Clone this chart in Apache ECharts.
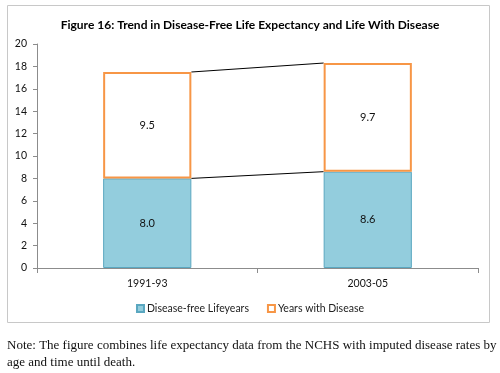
<!DOCTYPE html>
<html><head><meta charset="utf-8">
<script src="https://cdn.jsdelivr.net/npm/echarts@6/dist/echarts.min.js"></script>
<style>html,body{margin:0;padding:0;background:#fff}#c{width:500px;height:373px}</style>
</head><body><div id="c"></div>
<script>
const categories = ['1991-93', '2003-05'];
const diseaseFree = [8.0, 8.6];
const withDisease = [9.5, 9.7];
const yTicks = [0, 2, 4, 6, 8, 10, 12, 14, 16, 18, 20];
const titleText = 'Figure 16: Trend in Disease-Free Life Expectancy and Life With Disease';
const noteLines = ['Note: The figure combines life expectancy data from the NCHS with imputed disease rates by', 'age and time until death.'];

const totals = diseaseFree.map((v, i) => +(v + withDisease[i]).toFixed(1));
const connectors = [];
for (let i = 0; i < categories.length - 1; i++) {
  connectors.push([i, diseaseFree[i], diseaseFree[i + 1]]);
  connectors.push([i, totals[i], totals[i + 1]]);
}
const BAR_FRAC = 0.4;
const chart = echarts.init(document.getElementById('c'));
const font = 'Lato, "Open Sans", sans-serif';
chart.setOption({
  animation: false,
  textStyle: { fontFamily: font },
  title: { text: titleText, left: 'center', top: 14, textStyle: { fontSize: 12, fontWeight: 'bold', color: '#000', fontFamily: font } },
  graphic: [
    { type: 'rect', shape: { x: 7.5, y: 5.5, width: 482, height: 317 }, style: { fill: 'none', stroke: '#c8c8c8', lineWidth: 1 }, z: -1 },
    { type: 'text', left: 7, top: 337, style: { text: noteLines.join('\n'), font: '13px "Liberation Serif", serif', fill: '#111', lineHeight: 17 } }
  ],
  legend: {
    top: 298, left: 'center', itemWidth: 7, itemHeight: 7, itemGap: 18,
    icon: 'rect',
    textStyle: { fontSize: 10.5, color: '#222', fontFamily: font, padding: [0, 0, 0, -2] },
    data: ['Disease-free Lifeyears', 'Years with Disease']
  },
  grid: { left: 37, right: 22, top: 44, bottom: 105 },
  xAxis: {
    type: 'category', data: categories,
    axisLine: { lineStyle: { color: '#8c8c8c' } },
    axisTick: { show: true, length: 5, lineStyle: { color: '#8c8c8c' } },
    axisLabel: { color: '#111', fontSize: 10.5, margin: 10 }
  },
  yAxis: {
    type: 'value', min: 0, max: 20, interval: 2,
    axisLine: { show: true, lineStyle: { color: '#8c8c8c' } },
    axisTick: { show: true, length: 4, lineStyle: { color: '#8c8c8c' } },
    splitLine: { show: false },
    axisLabel: { color: '#111', fontSize: 10.5, margin: 10, formatter: v => yTicks.includes(v) ? String(v) : '' }
  },
  series: [
    {
      name: 'Disease-free Lifeyears', type: 'bar', stack: 't', barWidth: (BAR_FRAC * 100) + '%',
      data: diseaseFree,
      itemStyle: { color: '#93cddd', borderColor: '#5aa7c0', borderWidth: 1 },
      label: { show: true, position: 'inside', color: '#111', fontSize: 11, fontFamily: font, formatter: p => p.value.toFixed(1) }
    },
    {
      name: 'Years with Disease', type: 'bar', stack: 't', barWidth: (BAR_FRAC * 100) + '%',
      data: withDisease,
      itemStyle: { color: '#ffffff', borderColor: '#f79646', borderWidth: 2 },
      label: { show: true, position: 'inside', color: '#111', fontSize: 11, fontFamily: font, formatter: p => p.value.toFixed(1) }
    },
    {
      type: 'custom', silent: true, z: 1,
      data: connectors,
      renderItem: function (params, api) {
        const i = api.value(0);
        const half = api.size([1, 0])[0] * BAR_FRAC / 2;
        const p1 = api.coord([i, api.value(1)]);
        const p2 = api.coord([i + 1, api.value(2)]);
        return { type: 'line', shape: { x1: p1[0] + half, y1: p1[1], x2: p2[0] - half, y2: p2[1] }, style: { stroke: '#000', lineWidth: 1 } };
      }
    }
  ]
});
</script></body></html>
